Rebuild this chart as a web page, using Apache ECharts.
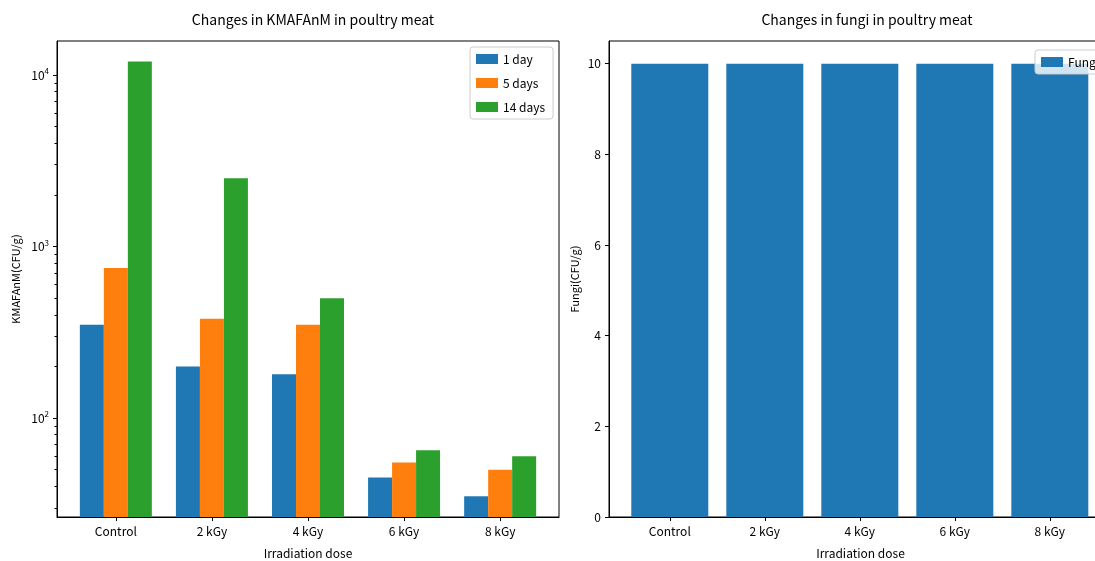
<!DOCTYPE html>
<html>
<head>
<meta charset="utf-8">
<script src="https://cdn.jsdelivr.net/npm/echarts@6/dist/echarts.min.js"></script>
<style>
  html, body { margin: 0; padding: 0; background: #fff; }
  #chart { width: 1095px; height: 561px; }
</style>
</head>
<body>
<div id="chart"></div>
<script>
const doses = ["Control", "2 kGy", "4 kGy", "6 kGy", "8 kGy"];
const day1 = [350, 200, 180, 45, 35];
const day5 = [750, 380, 350, 55, 50];
const day14 = [12000, 2500, 500, 65, 60];
const fungi = [10, 10, 10, 10, 10];
const majorTicks = [100, 1000, 10000];
const minorTicks = [30, 40, 50, 60, 70, 80, 90, 200, 300, 400, 500, 600, 700, 800, 900,
  2000, 3000, 4000, 5000, 6000, 7000, 8000, 9000];

const font = "'Noto Sans CJK KR', 'Noto Sans', sans-serif";
const positions = doses.map((d, i) => i);
const pairs = values => values.map((v, i) => [i, v]);

function doseLabel(v) {
  const i = Math.round(v);
  return Math.abs(v - i) < 1e-6 ? doses[i] : "";
}

function powLabel(v) {
  const l = Math.log10(v);
  const e = Math.round(l);
  if (Math.abs(l - e) > 1e-6) return "";
  return "{b|10}{s|" + e + "}";
}

const axisLine = { show: true, onZero: false, lineStyle: { color: "#000", width: 1 } };
const tick = { show: true, length: 4, lineStyle: { color: "#000" } };
const label = { color: "#000", fontSize: 12, fontFamily: font };
const nameStyle = { fontSize: 12, color: "#000", fontFamily: font };

const chart = echarts.init(document.getElementById("chart"));
chart.setOption({
  animation: false,
  textStyle: { fontFamily: font },
  title: [
    { text: "Changes in KMAFAnM in poultry meat", left: 308, top: 8, textAlign: "center",
      textStyle: { fontSize: 14, fontWeight: "normal", color: "#000", fontFamily: font } },
    { text: "Changes in fungi in poultry meat", left: 862, top: 8, textAlign: "center",
      textStyle: { fontSize: 14, fontWeight: "normal", color: "#000", fontFamily: font } }
  ],
  legend: [
    { data: ["1 day", "5 days", "14 days"], left: 470, top: 47, orient: "vertical",
      itemWidth: 22, itemHeight: 10, itemGap: 12, padding: [6, 8, 6, 6],
      backgroundColor: "rgba(255,255,255,0.8)", borderColor: "#ccc", borderWidth: 1, borderRadius: 3,
      textStyle: { fontSize: 12, color: "#000", fontFamily: font }, icon: "rect" },
    { data: ["Fungi"], left: 1035, top: 50, orient: "vertical",
      itemWidth: 22, itemHeight: 10, padding: [6, 6, 6, 6],
      backgroundColor: "rgba(255,255,255,0.8)", borderColor: "#ccc", borderWidth: 1, borderRadius: 3,
      textStyle: { fontSize: 12, color: "#000", fontFamily: font }, icon: "rect" }
  ],
  grid: [
    { left: 57, top: 41, width: 502, height: 476, outerBoundsMode: "none",
      show: true, borderColor: "#000", borderWidth: 1 },
    { left: 609, top: 41, width: 487, height: 476, outerBoundsMode: "none",
      show: true, borderColor: "#000", borderWidth: 1 }
  ],
  xAxis: [
    { type: "value", gridIndex: 0, min: -0.6125, max: 4.6125, name: "Irradiation dose",
      nameLocation: "middle", nameGap: 30, nameTextStyle: nameStyle,
      axisLine, axisTick: Object.assign({}, tick, { customValues: positions }),
      axisLabel: Object.assign({}, label, { margin: 8, customValues: positions, formatter: doseLabel }),
      splitLine: { show: false } },
    { type: "value", gridIndex: 1, min: -0.64, max: 4.486, name: "Irradiation dose",
      nameLocation: "middle", nameGap: 30,
      nameTextStyle: Object.assign({}, nameStyle, { padding: [0, 0, 0, 16] }),
      axisLine, axisTick: Object.assign({}, tick, { customValues: positions }),
      axisLabel: Object.assign({}, label, { margin: 8, customValues: positions, formatter: doseLabel }),
      splitLine: { show: false } }
  ],
  yAxis: [
    { type: "log", gridIndex: 0, position: "left", min: 26.5, max: 15800, logBase: 10,
      name: "KMAFAnM(CFU/g)", nameLocation: "middle", nameGap: 36,
      nameTextStyle: { fontSize: 11, color: "#000", fontFamily: font },
      axisLine, axisTick: Object.assign({}, tick, { customValues: majorTicks }),
      axisLabel: Object.assign({}, label, { customValues: majorTicks, formatter: powLabel,
        rich: { b: { fontSize: 12, color: "#000", fontFamily: font },
                s: { fontSize: 8, color: "#000", fontFamily: font, padding: [0, 0, 8, 0] } } }),
      splitLine: { show: false } },
    { type: "log", gridIndex: 0, position: "left", min: 26.5, max: 15800, logBase: 10,
      axisLine: { show: false, onZero: false },
      axisTick: { show: true, length: 2.5, customValues: minorTicks, lineStyle: { color: "#000" } },
      axisLabel: { show: false }, splitLine: { show: false } },
    { type: "value", gridIndex: 1, position: "left", min: 0, max: 10.5, interval: 2,
      name: "Fungi(CFU/g)", nameLocation: "middle", nameGap: 29, nameMoveOverlap: false,
      nameTextStyle: { fontSize: 11, color: "#000", fontFamily: font },
      axisLine, axisTick: tick,
      axisLabel: Object.assign({}, label, { showMaxLabel: false }),
      splitLine: { show: false } }
  ],
  series: [
    { name: "1 day", type: "bar", xAxisIndex: 0, yAxisIndex: 0, data: pairs(day1),
      barWidth: 24, barGap: "0%", itemStyle: { color: "#1f77b4" } },
    { name: "5 days", type: "bar", xAxisIndex: 0, yAxisIndex: 0, data: pairs(day5),
      barWidth: 24, barGap: "0%", itemStyle: { color: "#ff7f0e" } },
    { name: "14 days", type: "bar", xAxisIndex: 0, yAxisIndex: 0, data: pairs(day14),
      barWidth: 24, barGap: "0%", itemStyle: { color: "#2ca02c" } },
    { name: "Fungi", type: "bar", xAxisIndex: 1, yAxisIndex: 2, data: pairs(fungi),
      barWidth: 77, itemStyle: { color: "#1f77b4" } }
  ]
});
</script>
</body>
</html>
